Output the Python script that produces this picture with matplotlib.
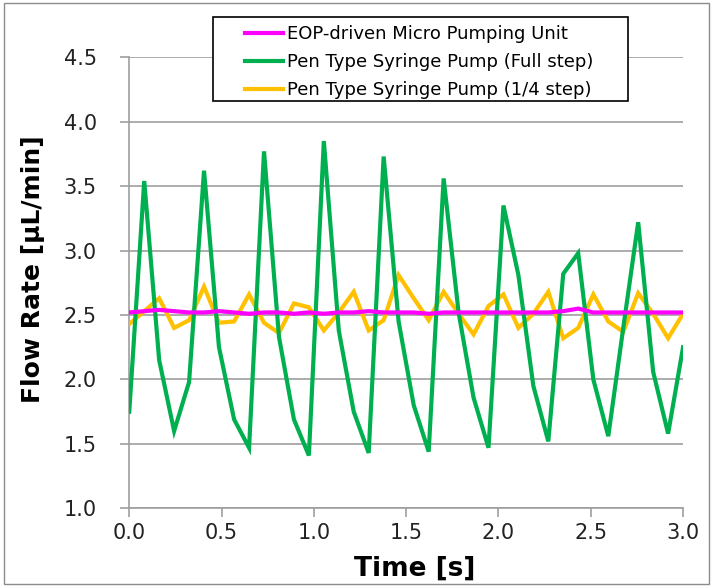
import matplotlib
matplotlib.use("Agg")
import matplotlib.pyplot as plt
from matplotlib.patches import Rectangle

# Sampling times [s]
time_s = [0.000, 0.081, 0.162, 0.243, 0.324, 0.405, 0.486, 0.568, 0.649, 0.730,
          0.811, 0.892, 0.973, 1.054, 1.135, 1.216, 1.297, 1.378, 1.459, 1.541,
          1.622, 1.703, 1.784, 1.865, 1.946, 2.027, 2.108, 2.189, 2.270, 2.351,
          2.432, 2.514, 2.595, 2.676, 2.757, 2.838, 2.919, 3.000]

# Flow rates [uL/min]
eop_pump = [2.52, 2.53, 2.54, 2.53, 2.52, 2.52, 2.53, 2.52, 2.51, 2.52,
            2.52, 2.51, 2.52, 2.51, 2.52, 2.52, 2.53, 2.52, 2.52, 2.52,
            2.51, 2.52, 2.52, 2.52, 2.52, 2.52, 2.52, 2.52, 2.52, 2.53,
            2.55, 2.52, 2.52, 2.52, 2.52, 2.52, 2.52, 2.52]

pen_full_step = [1.75, 3.54, 2.15, 1.60, 1.98, 3.62, 2.25, 1.69, 1.47, 3.77,
                 2.33, 1.69, 1.41, 3.85, 2.38, 1.75, 1.43, 3.73, 2.45, 1.80,
                 1.44, 3.56, 2.52, 1.86, 1.47, 3.35, 2.81, 1.95, 1.52, 2.82,
                 2.98, 2.00, 1.56, 2.40, 3.22, 2.06, 1.58, 2.25]

pen_quarter_step = [2.43, 2.53, 2.63, 2.40, 2.46, 2.72, 2.44, 2.45, 2.66, 2.44,
                    2.36, 2.59, 2.56, 2.38, 2.52, 2.68, 2.38, 2.46, 2.81, 2.63,
                    2.46, 2.68, 2.51, 2.35, 2.57, 2.66, 2.40, 2.51, 2.68, 2.32,
                    2.40, 2.66, 2.45, 2.37, 2.67, 2.51, 2.32, 2.51]

series_labels = ["EOP-driven Micro Pumping Unit",
                 "Pen Type Syringe Pump (Full step)",
                 "Pen Type Syringe Pump (1/4 step)"]

x_ticks = [0.0, 0.5, 1.0, 1.5, 2.0, 2.5, 3.0]
y_ticks = [1.0, 1.5, 2.0, 2.5, 3.0, 3.5, 4.0, 4.5]

PINK = "#FF00FF"
GREEN = "#00B050"
YELLOW = "#FFC000"
GRID = "#9E9E9E"

fig = plt.figure(figsize=(7.13, 5.87), dpi=100)
ax = fig.add_axes([0.1813, 0.134, 0.7767, 0.7684])

lw = 3.0
l_yel, = ax.plot(time_s, pen_quarter_step, color=YELLOW, lw=lw, zorder=3,
                 solid_joinstyle="miter", label=series_labels[2])
l_grn, = ax.plot(time_s, pen_full_step, color=GREEN, lw=lw, zorder=4,
                 solid_joinstyle="miter", label=series_labels[1])
l_pnk, = ax.plot(time_s, eop_pump, color=PINK, lw=lw, zorder=5,
                 label=series_labels[0])

ax.set_xlim(0, 3.0)
ax.set_ylim(1.0, 4.5)
ax.set_xticks(x_ticks)
ax.set_yticks(y_ticks)
ax.set_xticklabels([f"{v:.1f}" for v in x_ticks])
ax.set_yticklabels([f"{v:.1f}" for v in y_ticks])

ax.yaxis.grid(True, color=GRID, lw=1.2, zorder=1)
ax.set_axisbelow(True)

for side in ("top", "right"):
    ax.spines[side].set_visible(False)
for side in ("left", "bottom"):
    ax.spines[side].set_color(GRID)
    ax.spines[side].set_linewidth(1.2)

ax.tick_params(axis="both", colors=GRID, width=1.2, length=6.5,
               labelcolor="#222222", labelsize=15, direction="out")
ax.tick_params(axis="y", pad=17)
ax.tick_params(axis="x", pad=4)

ax.set_xlabel("Time [s]", fontsize=19, fontweight="bold", labelpad=9)
ax.xaxis.label.set_x(0.516)
ax.set_ylabel("Flow Rate [μL/min]", fontsize=18, fontweight="bold", labelpad=13)
ax.yaxis.label.set_y(0.53)

# Legend placed above the plot area with a square black frame
leg = fig.legend([l_pnk, l_grn, l_yel], series_labels,
                 loc="upper left", bbox_to_anchor=(245 / 713, 1 - 25 / 587),
                 frameon=False, fontsize=13, handlelength=2.1,
                 handletextpad=0.25, labelspacing=0.55, borderpad=0,
                 borderaxespad=0)
fig.add_artist(Rectangle((213 / 713, 1 - 101 / 587), 415 / 713, 84 / 587,
                         transform=fig.transFigure, fill=True,
                         facecolor="white", edgecolor="black", lw=1.2,
                         zorder=0.5))
leg.set_zorder(1)

# Thin outer border around the whole chart
fig.add_artist(Rectangle((4 / 713, 3 / 587), 705 / 713, 581 / 587,
                         transform=fig.transFigure, fill=False,
                         edgecolor="#8C8C8C", lw=1.0))

fig.savefig("out.png", dpi=100)
